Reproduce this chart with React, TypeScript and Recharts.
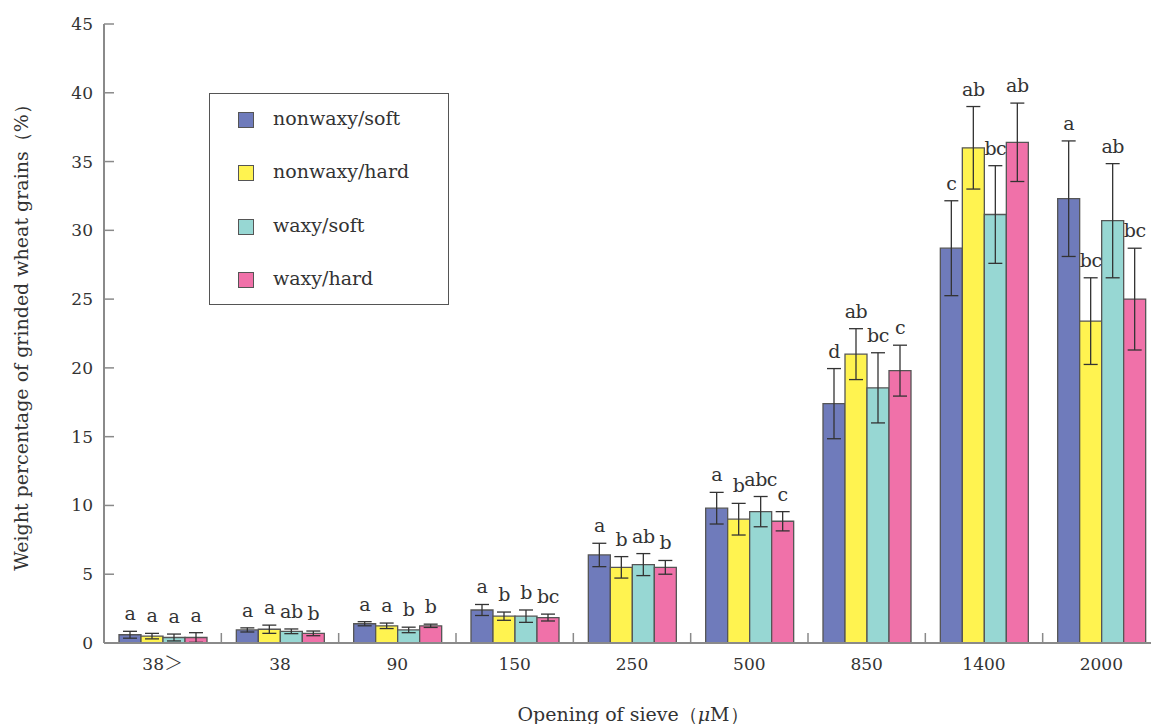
import React from 'react'
import { BarChart, Bar, XAxis, YAxis, ErrorBar, LabelList } from 'recharts'

const sieves = ['38＞', '38', '90', '150', '250', '500', '850', '1400', '2000']
const yTicks = [0, 5, 10, 15, 20, 25, 30, 35, 40, 45]

const nonwaxySoft = [0.6, 0.95, 1.4, 2.4, 6.4, 9.8, 17.4, 28.7, 32.3]
const nonwaxyHard = [0.5, 1.0, 1.25, 1.95, 5.5, 9.0, 21.0, 36.0, 23.4]
const waxySoft = [0.4, 0.85, 0.95, 1.95, 5.7, 9.55, 18.55, 31.15, 30.7]
const waxyHard = [0.4, 0.7, 1.25, 1.85, 5.5, 8.85, 19.8, 36.4, 25.0]

const nonwaxySoftErr = [0.25, 0.15, 0.15, 0.4, 0.85, 1.15, 2.55, 3.45, 4.2]
const nonwaxyHardErr = [0.2, 0.3, 0.2, 0.3, 0.78, 1.15, 1.85, 3.0, 3.15]
const waxySoftErr = [0.25, 0.17, 0.2, 0.45, 0.8, 1.1, 2.55, 3.55, 4.15]
const waxyHardErr = [0.35, 0.17, 0.12, 0.25, 0.5, 0.7, 1.85, 2.85, 3.7]

const nonwaxySoftSig = ['a', 'a', 'a', 'a', 'a', 'a', 'd', 'c', 'a']
const nonwaxyHardSig = ['a', 'a', 'a', 'b', 'b', 'b', 'ab', 'ab', 'bc']
const waxySoftSig = ['a', 'ab', 'b', 'b', 'ab', 'abc', 'bc', 'bc', 'ab']
const waxyHardSig = ['a', 'b', 'b', 'bc', 'b', 'c', 'c', 'ab', 'bc']

const series = [
    { key: 'ns', name: 'nonwaxy/soft', color: '#6f7bbb', values: nonwaxySoft, err: nonwaxySoftErr, sig: nonwaxySoftSig },
    { key: 'nh', name: 'nonwaxy/hard', color: '#fff350', values: nonwaxyHard, err: nonwaxyHardErr, sig: nonwaxyHardSig },
    { key: 'ws', name: 'waxy/soft', color: '#97d7d3', values: waxySoft, err: waxySoftErr, sig: waxySoftSig },
    { key: 'wh', name: 'waxy/hard', color: '#f071a9', values: waxyHard, err: waxyHardErr, sig: waxyHardSig }
]

const data = sieves.map((s, i) => {
    const row: Record<string, string | number> = { sieve: s }
    series.forEach(sr => {
        row[sr.key] = sr.values[i]
        row[sr.key + 'Err'] = sr.err[i]
        row[sr.key + 'Sig'] = sr.sig[i]
    })
    return row
})

// layout
const W = 1170
const H = 724
const AXIS_X = 104
const PLOT_TOP = 24
const PLOT_BOTTOM = 643
const PLOT_RIGHT = 1160
const BAND = (PLOT_RIGHT - AXIS_X) / sieves.length
const FONT = '"DejaVu Serif", serif'
const AXIS_COLOR = '#8a8a8a'
const TEXT_COLOR = '#333'

function YTick(props: any) {
    const y = props.y
    return (
        <g>
            <line x1={AXIS_X} x2={AXIS_X + 10} y1={y} y2={y} stroke={AXIS_COLOR} strokeWidth={1.5} />
            <text x={AXIS_X - 11} y={y} dy={6} textAnchor="end" fontFamily={FONT} fontSize={17} fill={TEXT_COLOR}>
                {props.payload.value}
            </text>
        </g>
    )
}

function XTick(props: any) {
    const x = props.x
    const right = x + BAND / 2
    const label = String(props.payload.value)
    // the "＞" sign is drawn a bit apart, in a thin CJK face
    const sign = label.endsWith('＞')
    return (
        <g>
            <line x1={right} x2={right} y1={PLOT_BOTTOM} y2={PLOT_BOTTOM - 10} stroke={AXIS_COLOR} strokeWidth={1.5} />
            <text x={x} y={PLOT_BOTTOM + 27} textAnchor="middle" fontFamily={FONT} fontSize={17} fill={TEXT_COLOR}>
                {sign ? label.slice(0, -1) : label}
                {sign && <tspan fontFamily='"Noto Sans CJK JP"' fontSize={19} fontWeight={300}>＞</tspan>}
            </text>
        </g>
    )
}

function sigLabel(errs: number[], values: number[]) {
    return (props: any) => {
        const { x, y, width, height, index, value } = props
        const pxPerUnit = height / values[index]
        const top = y - errs[index] * pxPerUnit
        return (
            <text x={x + width / 2} y={top - 11} textAnchor="middle" fontFamily={FONT} fontSize={19} letterSpacing={-0.5} fill={TEXT_COLOR}>
                {value}
            </text>
        )
    }
}

function LegendBox() {
    return (
        <div style={{
            position: 'absolute', left: 209, top: 93,
            width: 240, height: 212, border: '1px solid #555', background: '#fff',
            boxSizing: 'border-box', fontFamily: FONT
        }}>
            {series.map((s, i) => (
                <div key={s.key} style={{ position: 'absolute', left: 0, top: 26 + i * 53.3 - 11, height: 22 }}>
                    <span style={{
                        position: 'absolute', left: 28, top: 3, width: 16, height: 16,
                        background: s.color, border: '1px solid #555', boxSizing: 'border-box'
                    }} />
                    <span style={{ position: 'absolute', left: 63, top: -2, fontSize: 19, color: TEXT_COLOR, whiteSpace: 'nowrap' }}>
                        {s.name}
                    </span>
                </div>
            ))}
        </div>
    )
}

export default function App() {
    return (
        <div style={{ position: 'absolute', left: 0, top: 0, width: 1151, height: 724, overflow: 'hidden', background: '#fff' }}>
            <BarChart
                width={W}
                height={H}
                data={data}
                margin={{ top: PLOT_TOP, right: W - PLOT_RIGHT, bottom: H - PLOT_BOTTOM - 40, left: 0 }}
                barCategoryGap={15}
                barGap={0}
            >
                <XAxis
                    dataKey="sieve"
                    height={40}
                    axisLine={{ stroke: AXIS_COLOR, strokeWidth: 2 }}
                    tickLine={false}
                    tick={<XTick />}
                    interval={0}
                />
                <YAxis
                    width={AXIS_X}
                    domain={[0, 45]}
                    ticks={yTicks}
                    interval={0}
                    axisLine={{ stroke: AXIS_COLOR, strokeWidth: 2 }}
                    tickLine={false}
                    tick={<YTick />}
                />
                {series.map(s => (
                    <Bar
                        key={s.key}
                        dataKey={s.key}
                        name={s.name}
                        fill={s.color}
                        stroke="#555"
                        strokeWidth={1.3}
                        isAnimationActive={false}
                    >
                        <ErrorBar dataKey={s.key + 'Err'} width={7} stroke="#333" strokeWidth={1.3} direction="y" />
                        <LabelList dataKey={s.key + 'Sig'} content={sigLabel(s.err, s.values)} />
                    </Bar>
                ))}
            </BarChart>
            <LegendBox />
            <svg width={1151} height={724} style={{ position: 'absolute', left: 0, top: 0, pointerEvents: 'none' }}>
                <text
                    transform="translate(28, 333) rotate(-90)"
                    textAnchor="middle"
                    fontFamily={FONT}
                    fontSize={19}
                    fill={TEXT_COLOR}
                >
                    Weight percentage of grinded wheat grains（%）
                </text>
                <text x={633} y={721} textAnchor="middle" fontFamily={FONT} fontSize={19} fill={TEXT_COLOR}>
                    Opening of sieve（<tspan fontStyle="italic">μ</tspan>M）
                </text>
            </svg>
        </div>
    )
}
